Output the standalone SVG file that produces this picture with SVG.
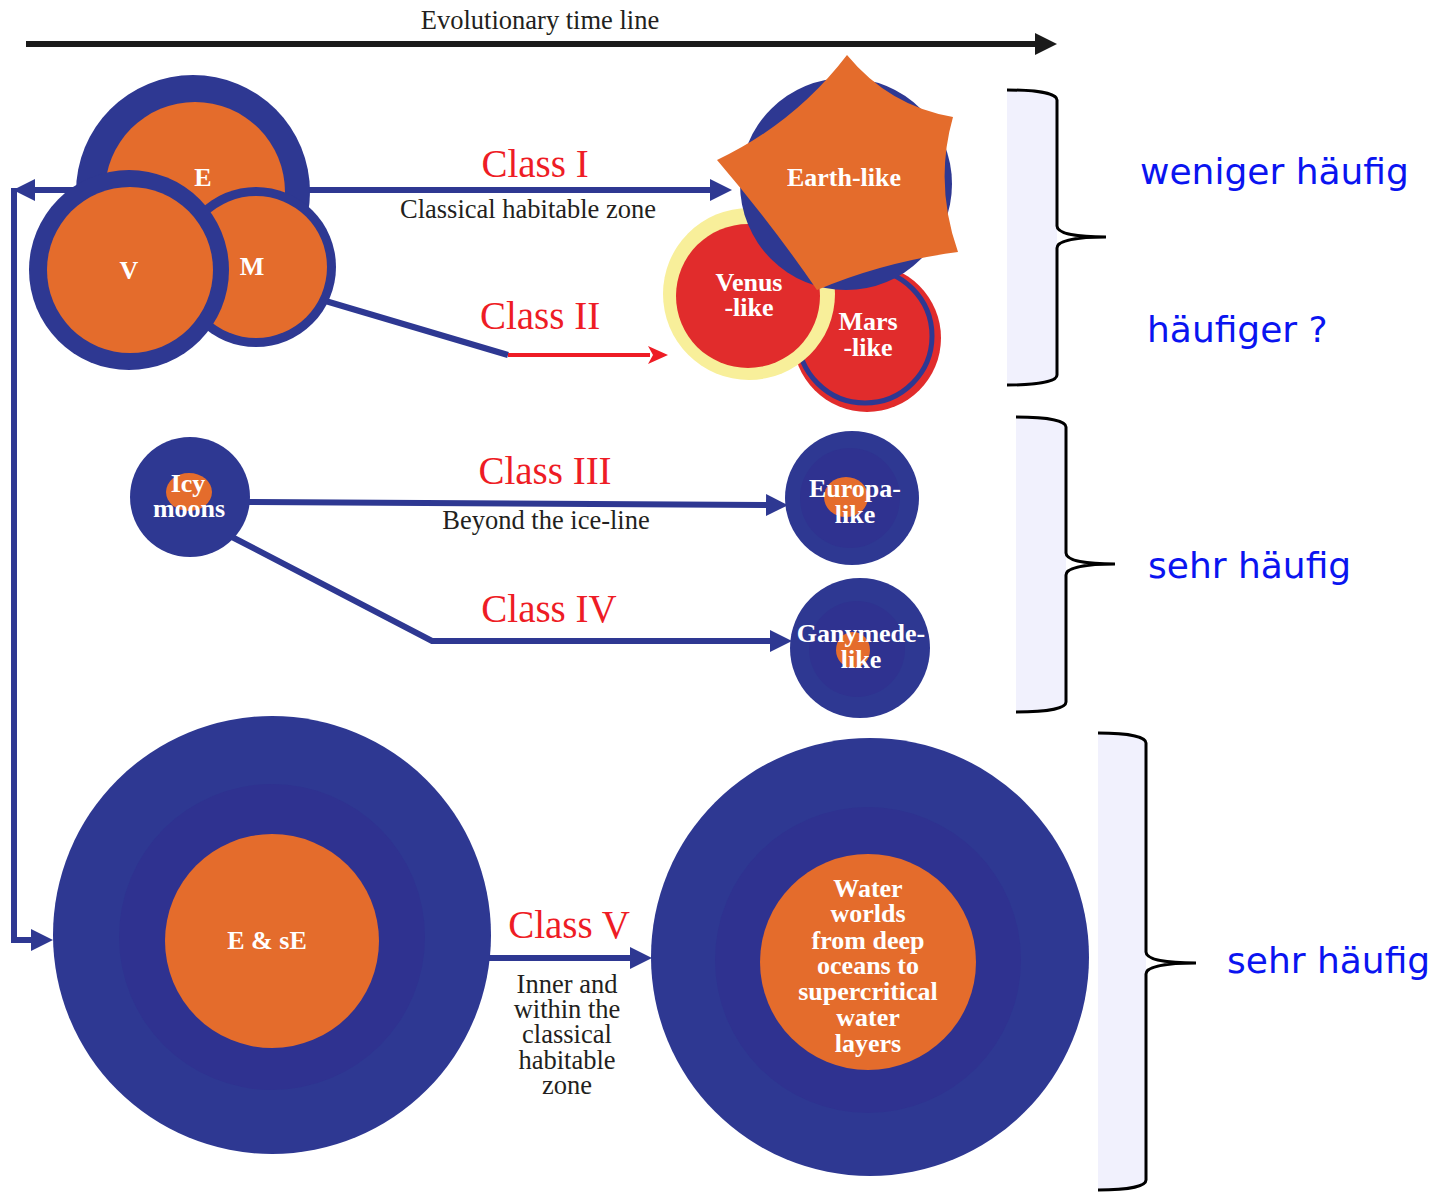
<svg xmlns="http://www.w3.org/2000/svg" width="1449" height="1192" viewBox="0 0 1449 1192">
<defs>
<style>
.blue{fill:#2e3892}
.ring{fill:#2f3290}
.org{fill:#e46c2c}
.red{fill:#e12c2c}
.conn{stroke:#2e3892;stroke-width:6;fill:none}
.lbl{font-family:"Liberation Serif","Times New Roman",serif;font-weight:bold;font-size:26px;fill:#ffffff;text-anchor:middle}
.cls{font-family:"Liberation Serif","Times New Roman",serif;font-size:39px;fill:#ee1c25;text-anchor:middle}
.sub{font-family:"Liberation Serif","Times New Roman",serif;font-size:26.5px;fill:#231f20;text-anchor:middle}
.de{font-family:"DejaVu Sans",Verdana,sans-serif;font-size:36px;fill:#0a14f0}
.brfill{fill:#f1f1fd;stroke:none}
.br{fill:none;stroke:#000;stroke-width:3}
</style>
<marker id="ab" markerUnits="userSpaceOnUse" markerWidth="24" markerHeight="24" refX="0" refY="11" orient="auto" viewBox="0 0 24 24">
<path d="M0,0 L22,11 L0,22 z" fill="#2e3892"/>
</marker>
<marker id="ak" markerUnits="userSpaceOnUse" markerWidth="24" markerHeight="24" refX="0" refY="11" orient="auto" viewBox="0 0 24 24">
<path d="M0,0 L22,11 L0,22 z" fill="#1a1a1a"/>
</marker>
<marker id="ar" markerUnits="userSpaceOnUse" markerWidth="24" markerHeight="24" refX="2" refY="10" orient="auto" viewBox="0 0 24 24">
<path d="M0,1 L20,10 L0,19 L5,10 z" fill="#ee1c25"/>
</marker>
</defs>
<rect width="1449" height="1192" fill="#ffffff"/>

<g id="timeline">
<line x1="26" y1="44" x2="1035" y2="44" stroke="#1a1a1a" stroke-width="6" marker-end="url(#ak)"/>
<text x="540" y="29" class="sub">Evolutionary time line</text>
</g>

<g id="brackets">
<path class="brfill" d="M1007,90 C1040,90 1057,94 1057,100 V375 C1057,381 1040,385 1007,385 Z"/>
<path class="br" d="M1007,90 C1040,90 1057,94 1057,100 V226 C1057,234 1078,237 1106,237 C1078,237 1057,240 1057,248 V375 C1057,381 1040,385 1007,385"/>
<path class="brfill" d="M1016,417 C1049,417 1066,421 1066,427 V702 C1066,708 1049,712 1016,712 Z"/>
<path class="br" d="M1016,417 C1049,417 1066,421 1066,427 V553 C1066,561 1087,564 1115,564 C1087,564 1066,567 1066,575 V702 C1066,708 1049,712 1016,712"/>
<path class="brfill" d="M1098,733 C1129,733 1146,737 1146,743 V1180 C1146,1186 1129,1190 1098,1190 Z"/>
<path class="br" d="M1098,733 C1129,733 1146,737 1146,743 V952 C1146,960 1167,963 1196,963 C1167,963 1146,966 1146,974 V1180 C1146,1186 1129,1190 1098,1190"/>
<text x="1140" y="184" class="de">weniger häufig</text>
<text x="1147" y="342" class="de">häufiger ?</text>
<text x="1148" y="578" class="de">sehr häufig</text>
<text x="1227" y="973" class="de">sehr häufig</text>
</g>

<g id="connectors">
<line class="conn" x1="300" y1="190" x2="710" y2="190" marker-end="url(#ab)"/>
<line class="conn" x1="90" y1="190" x2="35" y2="190" marker-end="url(#ab)"/>
<path class="conn" stroke-width="5" d="M14,188 V940 H31" marker-end="url(#ab)"/>
<polyline class="conn" points="312,297 508,355"/>
<line x1="508" y1="355" x2="650" y2="355" stroke="#ee1c25" stroke-width="4" marker-end="url(#ar)"/>
<line class="conn" x1="245" y1="502" x2="766" y2="505" marker-end="url(#ab)"/>
<polyline class="conn" points="232,537 432,641 770,641" marker-end="url(#ab)"/>
<line class="conn" x1="485" y1="958" x2="630" y2="958" marker-end="url(#ab)"/>
<text x="535" y="177" class="cls">Class I</text>
<text x="528" y="218" class="sub">Classical habitable zone</text>
<text x="540" y="329" class="cls">Class II</text>
<text x="545" y="484" class="cls">Class III</text>
<text x="546" y="529" class="sub">Beyond the ice-line</text>
<text x="549" y="622" class="cls">Class IV</text>
<text x="569" y="938" class="cls">Class V</text>
<text class="sub" font-size="25"><tspan x="567" y="993">Inner and</tspan><tspan x="567" y="1018">within the</tspan><tspan x="567" y="1043">classical</tspan><tspan x="567" y="1069">habitable</tspan><tspan x="567" y="1094">zone</tspan></text>
</g>

<g id="node-E">
<circle cx="193" cy="192" r="117" class="blue"/>
<circle cx="195" cy="192" r="90" class="org"/>
<text x="203" y="186" class="lbl" font-size="24">E</text>
</g>
<g id="node-M">
<circle cx="256" cy="267" r="80" class="blue"/>
<circle cx="256" cy="267" r="71" class="org"/>
<text x="252" y="275" class="lbl" font-size="24">M</text>
</g>
<g id="node-V">
<circle cx="129" cy="270" r="100" class="blue"/>
<circle cx="130" cy="270" r="83" class="org"/>
<text x="129" y="279" class="lbl" font-size="24">V</text>
</g>

<g id="node-mars">
<circle cx="867" cy="338" r="74" class="red"/>
<circle cx="865" cy="336" r="67" fill="none" stroke="#2e3892" stroke-width="5"/>
<text class="lbl"><tspan x="868" y="330">Mars</tspan><tspan x="868" y="356">-like</tspan></text>
</g>
<g id="node-venus">
<circle cx="749" cy="294" r="86" fill="#f8ef9a"/>
<circle cx="748" cy="296" r="72" class="red"/>
<text class="lbl"><tspan x="749" y="291">Venus</tspan><tspan x="749" y="316">-like</tspan></text>
</g>
<g id="node-earth">
<circle cx="846" cy="184" r="106" class="blue"/>
<path class="org" d="M847,55 Q889,106 953,117 Q934,184 958,252 Q883,262 817,290 Q771,223 717,160 Q795,123 847,55 Z"/>
<text x="844" y="186" class="lbl">Earth-like</text>
</g>

<g id="node-icy">
<circle cx="190" cy="497" r="60" class="blue"/>
<ellipse cx="189" cy="492" rx="23" ry="19" class="org"/>
<text class="lbl"><tspan x="188" y="492">Icy</tspan><tspan x="189" y="517">moons</tspan></text>
</g>
<g id="node-europa">
<circle cx="852" cy="498" r="67" class="blue"/>
<circle cx="850" cy="498" r="50" class="ring"/>
<ellipse cx="846" cy="497" rx="22" ry="20" class="org"/>
<text class="lbl"><tspan x="855" y="497">Europa-</tspan><tspan x="855" y="523">like</tspan></text>
</g>
<g id="node-ganymede">
<circle cx="860" cy="648" r="70" class="blue"/>
<circle cx="857" cy="649" r="48" class="ring"/>
<ellipse cx="853" cy="650" rx="17" ry="18" class="org"/>
<text class="lbl"><tspan x="861" y="642">Ganymede-</tspan><tspan x="861" y="668">like</tspan></text>
</g>

<g id="node-ese">
<circle cx="272" cy="935" r="219" class="blue"/>
<circle cx="272" cy="937" r="153" class="ring"/>
<circle cx="272" cy="941" r="107" class="org"/>
<text x="267" y="949" class="lbl">E &amp; sE</text>
</g>
<g id="node-water">
<circle cx="870" cy="957" r="219" class="blue"/>
<circle cx="868" cy="960" r="153" class="ring"/>
<circle cx="868" cy="962" r="108" class="org"/>
<text class="lbl" font-size="25"><tspan x="868" y="897">Water</tspan><tspan x="868" y="922">worlds</tspan><tspan x="868" y="949">from deep</tspan><tspan x="868" y="974">oceans to</tspan><tspan x="868" y="1000">supercritical</tspan><tspan x="868" y="1026">water</tspan><tspan x="868" y="1052">layers</tspan></text>
</g>
</svg>
